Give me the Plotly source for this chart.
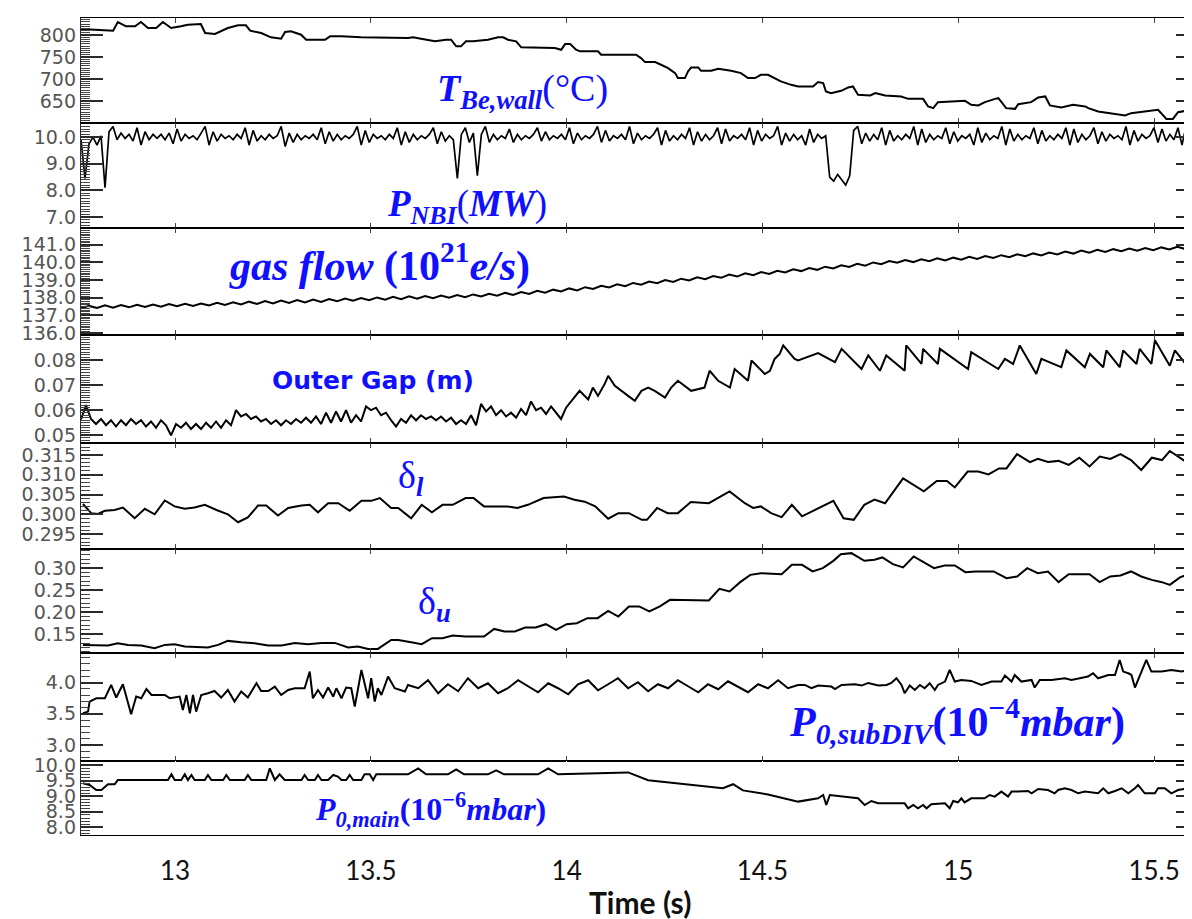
import numpy as np
import plotly.graph_objects as go

# ---------------- data ----------------
T_WALL_T = [12.760, 12.842, 12.854, 12.875, 12.898, 12.913, 12.931, 12.952, 12.969, 12.990,
            13.015, 13.033, 13.066, 13.077, 13.102, 13.118, 13.135, 13.161, 13.181, 13.192,
            13.220, 13.245, 13.271, 13.281, 13.296, 13.322, 13.335, 13.383, 13.396, 13.424,
            13.475, 13.595, 13.608, 13.628, 13.664, 13.692, 13.705, 13.718, 13.730, 13.743,
            13.761, 13.799, 13.825, 13.838, 13.850, 13.871, 13.884, 13.970, 13.986, 13.996,
            14.009, 14.024, 14.034, 14.080, 14.088, 14.177, 14.190, 14.200, 14.226, 14.241,
            14.259, 14.277, 14.284, 14.302, 14.310, 14.318, 14.336, 14.343, 14.369, 14.387,
            14.420, 14.445, 14.463, 14.481, 14.496, 14.514, 14.532, 14.547, 14.573, 14.591,
            14.629, 14.642, 14.655, 14.662, 14.675, 14.701, 14.719, 14.731, 14.744, 14.775,
            14.788, 14.813, 14.854, 14.872, 14.910, 14.923, 14.936, 14.948, 15.017, 15.033,
            15.051, 15.068, 15.094, 15.102, 15.109, 15.122, 15.145, 15.153, 15.186, 15.204,
            15.222, 15.234, 15.263, 15.293, 15.324, 15.332, 15.357, 15.390, 15.426, 15.441,
            15.492, 15.510, 15.518, 15.531, 15.548, 15.561, 15.594, 15.612]
T_WALL_V = [813.6, 809.8, 829.5, 819.8, 819.8, 829.5, 815.9, 815.9, 829.5, 815.9,
            819.8, 823.4, 825.0, 804.5, 802.3, 809.8, 815.9, 822.0, 822.0, 809.8,
            804.5, 794.8, 791.6, 806.8, 808.4, 800.7, 789.3, 789.3, 797.0, 797.0,
            794.8, 793.2, 794.8, 791.6, 785.7, 789.3, 789.3, 774.3, 774.3, 785.7,
            785.7, 789.3, 794.8, 794.8, 789.3, 785.7, 772.0, 770.5, 766.6, 779.5,
            779.5, 766.6, 763.0, 763.0, 755.2, 755.2, 747.7, 738.6, 738.6, 732.5,
            725.0, 713.6, 702.3, 702.3, 717.5, 726.6, 726.6, 718.9, 718.9, 723.4,
            718.9, 713.6, 702.3, 702.3, 709.8, 709.8, 702.3, 694.8, 687.0, 683.4,
            683.4, 693.2, 690.9, 672.0, 668.2, 673.4, 681.1, 683.4, 664.3, 663.0,
            668.2, 663.0, 660.7, 655.2, 655.2, 638.0, 634.1, 647.7, 650.7, 641.6,
            640.2, 647.7, 655.2, 656.8, 649.3, 634.1, 632.5, 643.2, 647.7, 658.4,
            660.7, 640.2, 635.7, 641.6, 638.0, 634.1, 626.6, 622.7, 617.5, 622.7,
            627.9, 630.2, 622.7, 609.7, 609.7, 625.0, 630.2, 629.5]

NBI_V = [9.9, 8.45, 9.75, 10.0, 9.7, 10.05, 8.1, 10.2, 10.4, 9.9, 10.15, 9.95, 10.1, 9.85, 10.35, 9.7, 10.2, 9.9, 10.1, 9.95,
         10.1, 9.9, 10.15, 9.75, 10.3, 9.85, 10.1, 9.95, 10.05, 9.9, 10.15, 10.4, 9.7, 10.2, 9.85, 10.1, 9.95, 10.05, 9.9, 10.1,
         9.95, 10.35, 9.7, 10.25, 9.85, 10.05, 9.9, 10.1, 9.95, 10.05, 10.4, 9.65, 10.15, 9.8, 10.1, 9.9, 10.05, 9.95, 10.1, 9.9,
         10.35, 9.75, 10.2, 9.85, 10.1, 9.9, 10.05, 9.95, 10.1, 10.4, 9.7, 10.25, 9.8, 10.1, 9.95, 10.05, 9.9, 10.1, 9.95, 10.35,
         9.7, 10.2, 9.8, 10.1, 9.9, 10.05, 9.95, 10.1, 10.35, 9.75, 10.2, 9.85, 10.05, 9.9, 8.45, 10.1, 10.35, 9.8, 10.15, 8.55,
         10.1, 10.4, 9.8, 10.1, 9.9, 10.05, 9.95, 10.3, 9.8, 10.1, 9.9, 10.05, 9.95, 10.1, 10.35, 9.85, 10.2, 9.9, 10.05, 9.95,
         10.1, 9.9, 10.35, 9.75, 10.15, 9.9, 10.05, 9.95, 10.1, 10.4, 9.8, 10.25, 9.85, 10.05, 9.95, 10.1, 9.9, 10.4, 9.75, 10.15,
         9.9, 10.05, 9.95, 10.1, 10.35, 9.7, 10.25, 9.85, 10.05, 9.9, 10.1, 9.95, 10.35, 9.7, 10.2, 9.85, 10.1, 9.9, 10.05, 10.35,
         9.75, 10.3, 9.85, 10.05, 9.95, 10.1, 9.9, 10.35, 9.7, 10.25, 9.85, 10.1, 9.95, 10.05, 10.4, 9.7, 10.15, 9.85, 10.1, 9.9,
         10.05, 9.7, 10.3, 9.8, 10.1, 9.95, 10.05, 8.5, 8.35, 8.6, 8.4, 8.2, 8.55, 10.25, 10.4, 9.75, 10.15, 9.85, 10.1, 9.9,
         10.35, 9.7, 10.25, 9.85, 10.05, 9.9, 10.1, 9.95, 10.4, 9.7, 10.3, 9.8, 10.1, 9.9, 10.05, 9.95, 10.35, 9.75, 10.2, 9.85,
         10.05, 9.95, 10.1, 9.7, 10.35, 9.8, 10.15, 9.9, 10.05, 9.95, 10.4, 9.7, 10.3, 9.85, 10.1, 9.9, 10.05, 9.95, 10.35, 9.75,
         10.25, 9.85, 10.05, 9.9, 10.1, 9.95, 10.35, 9.7, 10.3, 9.8, 10.1, 9.9, 10.05, 10.35, 9.75, 10.2, 9.85, 10.1, 9.95, 10.05,
         9.9, 10.4, 9.7, 10.25, 9.85, 10.1, 9.95, 10.05, 10.35, 9.8, 10.3, 9.85, 10.1, 9.9, 10.35, 9.7, 10.4, 10.5, 9.9, 10.1]
NBI_T = np.linspace(12.760, 15.612, len(NBI_V))

GAS_V = [137.40, 137.54, 137.42, 137.57, 137.44, 137.59, 137.46, 137.60, 137.48, 137.62,
         137.50, 137.64, 137.52, 137.66, 137.54, 137.68, 137.56, 137.72, 137.60, 137.75,
         137.62, 137.78, 137.65, 137.81, 137.68, 137.84, 137.71, 137.87, 137.74, 137.90,
         137.77, 137.93, 137.80, 137.96, 137.83, 137.99, 137.86, 138.02, 137.89, 138.05,
         137.92, 138.08, 137.95, 138.10, 137.97, 138.13, 138.00, 138.15, 138.03, 138.19,
         138.07, 138.23, 138.12, 138.28, 138.16, 138.33, 138.22, 138.40, 138.29, 138.46,
         138.36, 138.53, 138.42, 138.60, 138.50, 138.68, 138.58, 138.76, 138.66, 138.84,
         138.74, 138.92, 138.82, 139.00, 138.90, 139.08, 138.98, 139.16, 139.05, 139.23,
         139.13, 139.31, 139.20, 139.38, 139.28, 139.46, 139.35, 139.53, 139.43, 139.61,
         139.51, 139.68, 139.58, 139.76, 139.66, 139.84, 139.74, 139.92, 139.82, 140.00,
         139.90, 140.08, 139.98, 140.14, 140.02, 140.18, 140.07, 140.23, 140.11, 140.27,
         140.16, 140.32, 140.20, 140.36, 140.25, 140.41, 140.30, 140.46, 140.35, 140.51,
         140.40, 140.56, 140.45, 140.62, 140.50, 140.67, 140.55, 140.72, 140.59, 140.75,
         140.63, 140.78, 140.66, 140.82, 140.69, 140.85, 140.73, 140.89, 140.76, 140.92]
GAS_T = np.linspace(12.760, 15.600, len(GAS_V))

GAP_EARLY_V = [0.0563, 0.0620, 0.0565, 0.0545, 0.0565, 0.0540, 0.0560, 0.0535, 0.0560, 0.0540,
               0.0565, 0.0545, 0.0560, 0.0535, 0.0555, 0.0530, 0.0560, 0.0540, 0.0500, 0.0545,
               0.0530, 0.0550, 0.0525, 0.0545, 0.0525, 0.0550, 0.0530, 0.0555, 0.0530, 0.0560,
               0.0540, 0.0600, 0.0575, 0.0585, 0.0565, 0.0575, 0.0555, 0.0565, 0.0545, 0.0560,
               0.0540, 0.0560, 0.0545, 0.0565, 0.0550, 0.0570, 0.0550, 0.0575, 0.0545, 0.0590,
               0.0550, 0.0595, 0.0555, 0.0600, 0.0550, 0.0580, 0.0555, 0.0615, 0.0600, 0.0610,
               0.0580, 0.0590, 0.0560, 0.0535, 0.0565, 0.0550, 0.0580, 0.0560, 0.0580, 0.0565,
               0.0575, 0.0560, 0.0575, 0.0555, 0.0570, 0.0545, 0.0560, 0.0545, 0.0580, 0.0540,
               0.0625, 0.0595, 0.0615, 0.0580, 0.0600, 0.0575, 0.0590, 0.0570, 0.0605, 0.0580,
               0.0635, 0.0600, 0.0610, 0.0585, 0.0615, 0.0590, 0.0565, 0.0610]
GAP_EARLY_T = np.linspace(12.760, 13.9985, len(GAP_EARLY_V))
GAP_LATE_T = [14.033, 14.055, 14.067, 14.080, 14.097, 14.106, 14.123, 14.157, 14.174, 14.191,
              14.208, 14.225, 14.251, 14.267, 14.284, 14.318, 14.352, 14.365, 14.387, 14.417,
              14.429, 14.463, 14.472, 14.506, 14.519, 14.531, 14.544, 14.553, 14.582, 14.591,
              14.616, 14.642, 14.685, 14.702, 14.753, 14.770, 14.800, 14.816, 14.863, 14.867,
              14.906, 14.910, 14.948, 14.953, 15.025, 15.033, 15.102, 15.119, 15.140, 15.157,
              15.199, 15.212, 15.263, 15.276, 15.323, 15.336, 15.370, 15.378, 15.412, 15.421,
              15.455, 15.463, 15.493, 15.502, 15.540, 15.553, 15.587, 15.600, 15.612]
GAP_LATE_V = [0.0677, 0.0643, 0.0690, 0.0657, 0.0704, 0.0737, 0.0697, 0.0657, 0.0637, 0.0677,
              0.0690, 0.0677, 0.0650, 0.0690, 0.0717, 0.0677, 0.0690, 0.0757, 0.0717, 0.0690,
              0.0764, 0.0717, 0.0798, 0.0744, 0.0757, 0.0804, 0.0824, 0.0858, 0.0804, 0.0798,
              0.0811, 0.0827, 0.0791, 0.0844, 0.0764, 0.0818, 0.0757, 0.0818, 0.0757, 0.0858,
              0.0784, 0.0844, 0.0784, 0.0844, 0.0764, 0.0831, 0.0764, 0.0804, 0.0784, 0.0858,
              0.0744, 0.0804, 0.0771, 0.0838, 0.0771, 0.0824, 0.0771, 0.0838, 0.0771, 0.0838,
              0.0784, 0.0844, 0.0784, 0.0878, 0.0777, 0.0838, 0.0771, 0.0838, 0.0824]

DL_T = [12.765, 12.786, 12.803, 12.821, 12.846, 12.867, 12.897, 12.923, 12.948, 12.974,
        12.999, 13.025, 13.050, 13.076, 13.106, 13.135, 13.161, 13.186, 13.212, 13.233,
        13.263, 13.289, 13.323, 13.344, 13.365, 13.391, 13.417, 13.446, 13.476, 13.501,
        13.523, 13.552, 13.570, 13.603, 13.630, 13.656, 13.683, 13.709, 13.742, 13.762,
        13.789, 13.848, 13.874, 13.901, 13.941, 13.993, 14.020, 14.046, 14.073, 14.106,
        14.132, 14.159, 14.192, 14.205, 14.231, 14.258, 14.284, 14.317, 14.363, 14.416,
        14.455, 14.476, 14.496, 14.522, 14.549, 14.575, 14.601, 14.634, 14.681, 14.707,
        14.733, 14.760, 14.786, 14.813, 14.859, 14.912, 14.945, 14.971, 14.991, 15.024,
        15.051, 15.077, 15.104, 15.123, 15.150, 15.183, 15.203, 15.229, 15.256, 15.282,
        15.309, 15.335, 15.361, 15.388, 15.414, 15.441, 15.467, 15.494, 15.520, 15.540,
        15.566, 15.593, 15.612]
DL_V = [0.3026, 0.3003, 0.3001, 0.3009, 0.3011, 0.3017, 0.2990, 0.3014, 0.3000, 0.3035,
        0.3020, 0.3014, 0.3017, 0.3024, 0.3011, 0.3000, 0.2980, 0.2992, 0.3022, 0.3022,
        0.2997, 0.3016, 0.3022, 0.3024, 0.3005, 0.3028, 0.3028, 0.3009, 0.3034, 0.3034,
        0.3041, 0.3016, 0.3016, 0.2990, 0.3024, 0.3005, 0.3024, 0.3024, 0.3041, 0.3041,
        0.3020, 0.3020, 0.3016, 0.3024, 0.3041, 0.3045, 0.3037, 0.3032, 0.3020, 0.2989,
        0.3003, 0.3003, 0.2986, 0.2986, 0.3016, 0.3003, 0.3003, 0.3031, 0.3028, 0.3058,
        0.3028, 0.3016, 0.3020, 0.3003, 0.2993, 0.3024, 0.2995, 0.3011, 0.3034, 0.2990,
        0.2986, 0.3024, 0.3037, 0.3028, 0.3091, 0.3058, 0.3084, 0.3084, 0.3068, 0.3108,
        0.3108, 0.3101, 0.3116, 0.3116, 0.3152, 0.3132, 0.3140, 0.3132, 0.3135, 0.3125,
        0.3143, 0.3121, 0.3146, 0.3140, 0.3152, 0.3137, 0.3112, 0.3143, 0.3137, 0.3160,
        0.3142, 0.3125, 0.3132]

DU_T = [12.765, 12.795, 12.829, 12.854, 12.880, 12.914, 12.948, 12.974, 12.999, 13.025,
        13.059, 13.084, 13.110, 13.135, 13.169, 13.203, 13.238, 13.272, 13.306, 13.340,
        13.374, 13.408, 13.442, 13.467, 13.493, 13.518, 13.552, 13.570, 13.603, 13.630,
        13.656, 13.683, 13.709, 13.742, 13.789, 13.815, 13.841, 13.868, 13.894, 13.921,
        13.947, 13.973, 14.000, 14.026, 14.053, 14.079, 14.106, 14.132, 14.159, 14.185,
        14.211, 14.238, 14.264, 14.317, 14.363, 14.390, 14.416, 14.443, 14.469, 14.496,
        14.549, 14.575, 14.601, 14.628, 14.654, 14.681, 14.700, 14.727, 14.760, 14.786,
        14.806, 14.833, 14.859, 14.886, 14.938, 14.965, 14.991, 15.018, 15.044, 15.090,
        15.123, 15.150, 15.176, 15.203, 15.229, 15.256, 15.282, 15.335, 15.361, 15.388,
        15.414, 15.441, 15.467, 15.494, 15.520, 15.540, 15.566, 15.593, 15.612]
DU_V = [0.1257, 0.1243, 0.1243, 0.1295, 0.1257, 0.1243, 0.1182, 0.1257, 0.1273, 0.1220,
        0.1198, 0.1198, 0.1257, 0.1348, 0.1318, 0.1295, 0.1243, 0.1243, 0.1302, 0.1273,
        0.1302, 0.1302, 0.1198, 0.1220, 0.1166, 0.1166, 0.1370, 0.1370, 0.1318, 0.1273,
        0.1409, 0.1409, 0.1470, 0.1448, 0.1448, 0.1620, 0.1561, 0.1561, 0.1652, 0.1652,
        0.1727, 0.1598, 0.1727, 0.1750, 0.1864, 0.1864, 0.2030, 0.1902, 0.2130, 0.2130,
        0.2016, 0.2130, 0.2280, 0.2266, 0.2266, 0.2530, 0.2470, 0.2682, 0.2848, 0.2886,
        0.2864, 0.3075, 0.3075, 0.2925, 0.3000, 0.3166, 0.3318, 0.3341, 0.3166, 0.3189,
        0.3243, 0.3091, 0.3016, 0.3266, 0.3000, 0.3061, 0.3061, 0.2909, 0.2925, 0.2925,
        0.2773, 0.2811, 0.3000, 0.2886, 0.2925, 0.2682, 0.2864, 0.2864, 0.2682, 0.2811,
        0.2834, 0.2925, 0.2811, 0.2734, 0.2682, 0.2620, 0.2789, 0.2886, 0.2789]

PSUB_T = [12.765, 12.778, 12.782, 12.799, 12.821, 12.837, 12.850, 12.867, 12.888, 12.901,
          12.914, 12.927, 12.940, 12.974, 12.987, 13.012, 13.020, 13.029, 13.038, 13.046,
          13.054, 13.067, 13.084, 13.101, 13.118, 13.135, 13.152, 13.169, 13.186, 13.208,
          13.220, 13.238, 13.255, 13.271, 13.289, 13.306, 13.331, 13.344, 13.352, 13.365,
          13.378, 13.391, 13.404, 13.412, 13.425, 13.437, 13.450, 13.459, 13.476, 13.484,
          13.493, 13.501, 13.510, 13.518, 13.527, 13.544, 13.561, 13.587, 13.595,
          13.621, 13.646, 13.672, 13.697, 13.723, 13.748, 13.774, 13.799, 13.825, 13.850,
          13.876, 13.901, 13.927, 13.953, 13.978, 14.004, 14.029, 14.055, 14.080, 14.106,
          14.131, 14.157, 14.182, 14.208, 14.233, 14.259, 14.284, 14.310, 14.336, 14.361,
          14.387, 14.412, 14.438, 14.463, 14.489, 14.514, 14.540, 14.565,
          14.591, 14.608, 14.625, 14.642, 14.676, 14.685, 14.702, 14.736, 14.753, 14.770,
          14.796, 14.817, 14.829, 14.842, 14.855, 14.863, 14.876, 14.889, 14.902, 14.914,
          14.927, 14.940, 14.948, 14.966, 14.978, 14.991, 15.008, 15.033, 15.059, 15.085,
          15.110, 15.119, 15.136, 15.144, 15.161, 15.187, 15.195, 15.208, 15.238, 15.272,
          15.289, 15.314, 15.331, 15.344, 15.357, 15.383, 15.400, 15.412, 15.421, 15.434,
          15.442, 15.451, 15.468, 15.480, 15.493, 15.519, 15.544, 15.570, 15.587, 15.604,
          15.612]
PSUB_V = [3.508, 3.535, 3.696, 3.748, 3.748, 3.962, 3.760, 3.973, 3.492, 3.776,
          3.748, 3.897, 3.801, 3.801, 3.748, 3.776, 3.561, 3.801, 3.508, 3.801,
          3.535, 3.801, 3.829, 3.865, 3.760, 3.881, 3.696, 3.856, 3.760, 3.989,
          3.865, 3.865, 3.936, 3.801, 3.881, 3.909, 3.909, 4.176, 3.748, 3.881,
          3.760, 3.920, 3.776, 3.909, 3.748, 3.920, 3.909, 3.615, 4.202, 3.962,
          3.748, 4.069, 3.696, 3.909, 3.801, 4.096, 3.909, 3.856, 3.962,
          3.909, 4.037, 3.829, 3.973, 3.861, 4.069, 3.909, 3.989, 3.829, 3.909,
          4.037, 3.941, 3.845, 3.989, 3.909, 3.812, 3.973, 4.037, 3.877, 3.973,
          4.069, 3.909, 4.005, 3.861, 3.973, 3.909, 4.037, 3.941, 3.845, 3.973,
          3.893, 4.021, 3.925, 3.845, 3.973, 3.909, 4.037, 3.909,
          3.962, 3.962, 3.909, 3.952, 3.936, 3.897, 3.962, 3.973, 3.952, 3.994,
          3.952, 3.962, 3.994, 4.069, 3.962, 3.829, 3.952, 3.881, 3.962, 3.909,
          3.989, 3.881, 3.962, 4.016, 4.202, 4.016, 4.042, 4.026, 3.962, 4.016,
          4.016, 4.112, 4.016, 4.122, 4.016, 4.042, 3.920, 4.042, 4.042, 4.069,
          4.042, 4.069, 4.096, 4.149, 4.069, 4.122, 4.122, 4.362, 4.176, 4.149,
          4.122, 3.920, 4.176, 4.362, 4.176, 4.176, 4.202, 4.176, 4.202, 4.176,
          4.202]

PMAIN_T = [12.765, 12.782, 12.799, 12.812, 12.829, 12.846, 12.854, 12.982, 12.991, 12.999,
           13.016, 13.025, 13.033, 13.042, 13.050, 13.076, 13.084, 13.093, 13.123, 13.131,
           13.140, 13.178, 13.186, 13.195, 13.233, 13.242, 13.255, 13.267, 13.280, 13.323,
           13.331, 13.340, 13.357, 13.365, 13.374, 13.391, 13.404, 13.416, 13.425, 13.437,
           13.446, 13.455, 13.476, 13.484, 13.497, 13.506, 13.514, 13.595,
           13.621, 13.641, 13.697, 13.718, 13.738, 13.799, 13.820, 13.840, 13.927, 13.953,
           13.978, 14.106, 14.157, 14.208, 14.259, 14.310, 14.361, 14.399, 14.425, 14.450,
           14.514, 14.553,
           14.591, 14.642, 14.655, 14.663, 14.672, 14.744, 14.761, 14.778, 14.795, 14.863,
           14.872, 14.885, 14.897, 14.910, 14.919, 14.931, 14.966, 14.978, 14.987, 14.999,
           15.008, 15.016, 15.033, 15.067, 15.080, 15.093, 15.110, 15.127, 15.136, 15.153,
           15.178, 15.187, 15.204, 15.229, 15.246, 15.255, 15.272, 15.289, 15.306, 15.323,
           15.357, 15.370, 15.383, 15.400, 15.417, 15.434, 15.451, 15.459, 15.476, 15.502,
           15.510, 15.527, 15.544, 15.561, 15.587, 15.600, 15.612]
PMAIN_V = [9.419, 9.365, 9.203, 9.203, 9.387, 9.387, 9.526, 9.526, 9.710, 9.526,
           9.526, 9.710, 9.526, 9.687, 9.526, 9.526, 9.687, 9.526, 9.526, 9.687,
           9.526, 9.526, 9.687, 9.526, 9.526, 9.903, 9.526, 9.710, 9.526, 9.526,
           9.687, 9.526, 9.526, 9.687, 9.526, 9.526, 9.687, 9.635, 9.526, 9.526,
           9.687, 9.526, 9.526, 9.710, 9.710, 9.526, 9.710, 9.710,
           9.90, 9.71, 9.71, 9.87, 9.71, 9.71, 9.84, 9.71, 9.71, 9.90,
           9.71, 9.77, 9.77, 9.52, 9.45, 9.39, 9.32, 9.26, 9.39, 9.19,
           9.06, 8.94,
           8.829, 8.935, 9.042, 8.719, 9.042, 8.935, 8.719, 8.848, 8.774, 8.774,
           8.613, 8.719, 8.613, 8.719, 8.613, 8.742, 8.774, 8.613, 8.848, 8.806,
           8.935, 8.806, 8.935, 8.935, 9.042, 8.990, 9.152, 8.990, 9.152, 9.152,
           9.171, 9.097, 9.235, 9.203, 9.097, 9.203, 9.258, 9.203, 9.097, 9.152,
           9.097, 9.258, 9.097, 9.171, 9.258, 9.097, 9.258, 9.365, 9.097, 9.097,
           9.258, 9.258, 9.097, 9.203, 9.258, 9.065, 9.258]

X_RANGE = [12.760, 15.612]

# ---------------- panels ----------------
panels = [
    dict(t=T_WALL_T, v=T_WALL_V, rng=[600.3, 838.6], t0=650, dt=50, fmt="d", minor=5, dom=[0.8714, 1.0], w=2),
    dict(t=NBI_T, v=NBI_V, rng=[6.59, 10.525], t0=7, dt=1, fmt=".1f", minor=0.1, dom=[0.7429, 0.8714], w=1.7),
    dict(t=GAS_T, v=GAS_V, rng=[135.89, 141.945], t0=136, dt=1, fmt=".1f", minor=0.1, dom=[0.6119, 0.7429], w=2),
    dict(t=list(GAP_EARLY_T) + GAP_LATE_T, v=GAP_EARLY_V + GAP_LATE_V, rng=[0.0469, 0.0899], t0=0.05, dt=0.01, fmt=".2f", minor=0.001, dom=[0.4797, 0.6119], w=2),
    dict(t=DL_T, v=DL_V, rng=[0.2912, 0.3180], t0=0.295, dt=0.005, fmt=".3f", minor=0.001, dom=[0.3499, 0.4797], w=2),
    dict(t=DU_T, v=DU_V, rng=[0.1068, 0.3432], t0=0.15, dt=0.05, fmt=".2f", minor=0.01, dom=[0.2225, 0.3499], w=2),
    dict(t=PSUB_T, v=PSUB_V, rng=[2.739, 4.470], t0=3.0, dt=0.5, fmt=".1f", minor=0.1, dom=[0.0902, 0.2225], w=2),
    dict(t=PMAIN_T, v=PMAIN_V, rng=[7.752, 10.129], t0=8.0, dt=0.5, fmt=".1f", minor=0.1, dom=[0.0, 0.0902], w=2),
]

AX = "#2a2a2a"
fig = go.Figure()
layout = {}
n = len(panels)
for i, p in enumerate(panels, start=1):
    sfx = "" if i == 1 else str(i)
    fig.add_trace(go.Scatter(x=p["t"], y=p["v"], mode="lines",
                             line=dict(color="black", width=p["w"]),
                             xaxis="x" + sfx, yaxis="y" + sfx, showlegend=False))
    xa = dict(domain=[0, 1], anchor="y" + sfx, range=X_RANGE, showticklabels=False,
              ticks="inside", ticklen=5, showline=True, mirror="ticks", linecolor="black")
    if i == n:
        xa.update(showticklabels=True, ticks="outside", ticklen=13, tickcolor="rgba(0,0,0,0)",
                  tickfont=dict(family="Lato", size=26, color="#111111"))
    layout["xaxis" + sfx] = xa
    ytick = dict(range=p["rng"], tickmode="linear", tick0=p["t0"], dtick=p["dt"],
                 ticks="inside", ticklen=22, tickwidth=1.5, tickcolor=AX, mirror="ticks",
                 minor=dict(ticks="inside", ticklen=9, tickwidth=1, tickcolor="#444444", dtick=p["minor"]),
                 showline=True, linecolor=AX, linewidth=1.4)
    layout["yaxis" + sfx] = dict(domain=p["dom"], anchor="x" + sfx, tickformat=p["fmt"],
                                 tickfont=dict(family="DejaVu Sans", size=19, color="#555555"), **ytick)
    # tick-only companion axis over the same panel (draws the inner tick combs)
    oid = str(n + i)
    fig.add_trace(go.Scatter(x=[None], y=[None], mode="lines", xaxis="x" + sfx, yaxis="y" + oid,
                             showlegend=False, hoverinfo="skip"))
    layout["yaxis" + oid] = dict(overlaying="y" + sfx, anchor="x" + sfx, side="left",
                                 showticklabels=False, showgrid=False, zeroline=False, **ytick)

BLUE = "#1010ff"
SERIF = "Liberation Serif"
ann = [
    dict(x=0.3957, y=0.9107, text="<b><i>T<sub>Be,wall</sub></i></b>(°C)", size=38, fam=SERIF),
    dict(x=0.3456, y=0.7698, text="<b><i>P<sub>NBI</sub></i></b>(<b><i>MW</i></b>)", size=37, fam=SERIF),
    dict(x=0.2668, y=0.7000, text="<b><i>gas flow</i> (10<sup>21</sup><i>e/s</i>)</b>", size=42, fam=SERIF),
    dict(x=0.2614, y=0.5567, text="<b>Outer Gap (m)</b>", size=25, fam="DejaVu Sans"),
    dict(x=0.2954, y=0.4367, text="δ<sub><b><i>l</i></b></sub>", size=38, fam=SERIF),
    dict(x=0.3169, y=0.2825, text="δ<sub><b><i>u</i></b></sub>", size=38, fam=SERIF),
    dict(x=0.7845, y=0.1390, text="<b><i>P<sub>0,subDIV</sub></i>(10<sup>−4</sup><i>mbar</i>)</b>", size=42, fam=SERIF),
    dict(x=0.3126, y=0.0315, text="<b><i>P<sub>0,main</sub></i>(10<sup>−6</sup><i>mbar</i>)</b>", size=32, fam=SERIF),
    dict(x=0.5007, y=-0.0820, text="<b>Time (s)</b>", size=30, fam="Lato", color="#111111"),
]
annotations = [dict(x=a["x"], y=a["y"], xref="paper", yref="paper", text=a["text"], showarrow=False,
                    xanchor="center", yanchor="middle",
                    font=dict(family=a["fam"], size=a["size"], color=a.get("color", BLUE))) for a in ann]

fig.update_layout(**layout)
fig.update_layout(width=1192, height=919, margin=dict(l=73, r=2, t=10, b=92),
                  paper_bgcolor="white", plot_bgcolor="white", annotations=annotations,
                  showlegend=False)
fig.write_html("out.html")
